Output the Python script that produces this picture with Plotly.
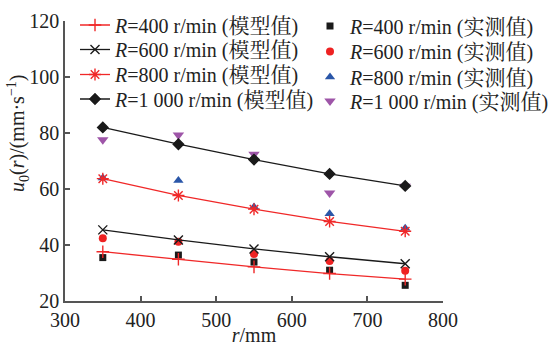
import plotly.graph_objects as go

r_vals = [350, 450, 550, 650, 750]

model_400 = [37.6, 34.9, 32.2, 29.8, 27.8]
model_600 = [45.4, 41.8, 38.6, 35.8, 33.3]
model_800 = [63.7, 57.7, 52.8, 48.4, 44.9]
model_1000 = [82.0, 76.0, 70.5, 65.4, 61.1]

meas_400 = [35.5, 36.4, 33.9, 31.0, 25.6]
meas_600 = [42.4, 41.2, 36.8, 34.3, 30.8]
meas_800 = [63.9, 63.0, 53.6, 51.2, 46.0]
meas_1000 = [77.6, 79.3, 72.4, 58.6, 61.0]

x_ticks = [300, 400, 500, 600, 700, 800]
y_ticks = [20, 40, 60, 80, 100, 120]

RED = "#f02828"
BLACK = "#1a1a1a"
FONT = "'Liberation Serif', 'Noto Serif CJK SC', 'Noto Sans CJK SC', serif"

L, R_, T, B = 65, 108, 21, 45
W, H = 551, 346
PW, PH = W - L - R_, H - T - B


def px_x(p):
    return (p - L) / PW


def px_y(p):
    return (H - B - p) / PH


def label(speed, kind):
    return (f"<i>R</i>={speed} r/min (<span style=\"font-size:21px\">{kind}</span>)")


fig = go.Figure()

meas = [
    ("400", meas_400, "#1a1a1a", "square", 7),
    ("600", meas_600, "#ee2222", "circle", 8),
    ("800", meas_800, "#2a56a8", "triangle-up", 9),
    ("1 000", meas_1000, "#9e55a8", "triangle-down", 10),
]
meas_rows = [26, 51.5, 77, 101]
for i, (name, vals, col, sym, sz) in enumerate(meas):
    fig.add_trace(go.Scatter(
        x=r_vals, y=vals, mode="markers",
        name=label(name, "实测值"),
        marker=dict(symbol=sym, size=sz, color=col, line=dict(width=0)),
        legend=f"legend{5 + i}", showlegend=True,
    ))

models = [
    ("400", model_400, RED, "cross-thin-open", 9),
    ("600", model_600, BLACK, "x-thin-open", 9),
    ("800", model_800, RED, "asterisk-open", 10),
    ("1 000", model_1000, BLACK, "diamond", 8),
]
model_rows = [25, 49.5, 74.5, 99]
for i, (name, vals, col, sym, sz) in enumerate(models):
    fig.add_trace(go.Scatter(
        x=r_vals, y=vals, mode="lines+markers",
        name=label(name, "模型值"),
        line=dict(color=col, width=1.3),
        marker=dict(symbol=sym, size=sz, color=col,
                    line=dict(color=col, width=1.4)),
        legend=f"legend{1 + i}", showlegend=True,
    ))

axis_common = dict(
    showline=True, linecolor="#555555", linewidth=1.5,
    ticks="inside", ticklen=5, tickcolor="#555555", tickwidth=1.5,
    showgrid=False, zeroline=False,
    tickfont=dict(family=FONT, size=20, color="#222222"),
)

layout = dict(
    width=W, height=H, showlegend=True,
    margin=dict(l=L, r=R_, t=T, b=B, autoexpand=False),
    paper_bgcolor="white", plot_bgcolor="white",
    font=dict(family=FONT, size=20, color="#222222"),
    xaxis=dict(range=[300, 800], tickvals=x_ticks, **axis_common,
               title=dict(text="<i>r</i>/mm", standoff=0,
                          font=dict(family=FONT, size=20))),
    yaxis=dict(range=[20, 120], tickvals=y_ticks, **axis_common),
    annotations=[dict(
        text="<i>u</i><sub>0</sub>(<i>r</i>)/(mm·s<sup>−1</sup>)",
        xref="paper", yref="paper", x=px_x(18), y=px_y(134),
        xanchor="center", yanchor="middle", textangle=-90, showarrow=False,
        font=dict(family=FONT, size=20, color="#222222"),
    )],
)

leg_common = dict(xanchor="left", yanchor="middle", bgcolor="rgba(0,0,0,0)",
                  font=dict(family=FONT, size=20), itemwidth=30)
for i in range(4):
    key = "legend" if i == 0 else f"legend{1 + i}"
    layout[key] = dict(x=px_x(75), y=px_y(model_rows[i]), **leg_common)
for i in range(4):
    layout[f"legend{5 + i}"] = dict(x=px_x(310), y=px_y(meas_rows[i]), **leg_common)

fig.update_layout(**layout)

fig.write_html("out.html")
